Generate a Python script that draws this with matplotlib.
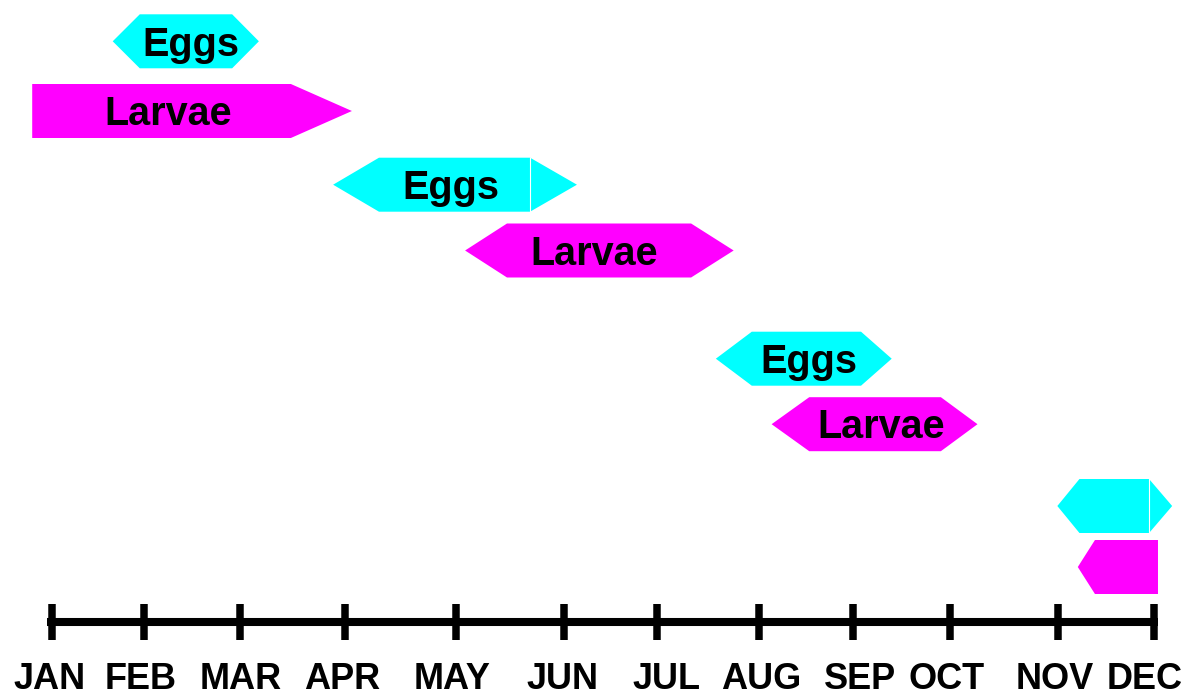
import matplotlib
matplotlib.use("Agg")
import matplotlib.pyplot as plt
from matplotlib.patches import Polygon

plt.rcParams["font.family"] = ["Liberation Sans", "DejaVu Sans"]

# month axis, in day-of-year units
months = ["JAN", "FEB", "MAR", "APR", "MAY", "JUN",
          "JUL", "AUG", "SEP", "OCT", "NOV", "DEC"]
month_pos = [0, 27.9, 57.1, 88.8, 122.4, 155.2,
             183.4, 214.3, 242.8, 272.2, 304.8, 334]
# where each month name sits (they are not exactly centred on the ticks)
month_label_pos = [-0.6, 27.0, 57.3, 87.9, 121.2, 154.6,
                   186.1, 214.9, 244.9, 271.0, 304.0, 331.3]

# stage bars: left tip, body start, body end, right tip (days)
stages = ["Eggs", "Larvae", "Eggs", "Larvae", "Eggs", "Larvae", "Eggs", "Larvae"]
left_tip = [18.4, -6.0, 85.2, 125.2, 201.2, 218.1, 304.7, 310.9]
body_start = [26.6, -6.0, 99.1, 137.9, 212.1, 229.5, 311.4, 316.1]
body_end = [54.6, 72.4, 144.9, 193.7, 245.2, 269.4, 332.5, 335.2]
right_tip = [62.7, 90.9, 159.1, 206.6, 254.5, 280.5, 339.5, 335.2]
show_label = [True, True, True, True, True, True, False, False]
label_pos = [42.1, 35.2, 120.9, 164.3, 229.4, 251.3, None, None]

# layout (vertical positions in pixel rows of the 697 px canvas)
row_y = [41.3, 111, 184.7, 250.5, 358.7, 424.2, 506, 567]
bar_h = 54
split_line = [False, False, True, False, False, False, True, False]
colors = {"Eggs": "#00FFFF", "Larvae": "#FF00FF"}

fig = plt.figure(figsize=(11.88, 6.97), dpi=100)
ax = fig.add_axes([0, 0, 1, 1])
ax.set_xlim(-15.76, 344.3)
ax.set_ylim(697, 0)
ax.axis("off")

for i, st in enumerate(stages):
    c = row_y[i]
    top, bot = c - bar_h / 2, c + bar_h / 2
    pts = [(left_tip[i], c), (body_start[i], top), (body_end[i], top),
           (right_tip[i], c), (body_end[i], bot), (body_start[i], bot)]
    ax.add_patch(Polygon(pts, closed=True, facecolor=colors[st],
                         edgecolor="none", antialiased=True))
    if split_line[i]:
        ax.plot([body_end[i], body_end[i]], [top, bot], color="white", lw=0.8)
    if show_label[i]:
        ax.text(label_pos[i], c + 14.3, st, ha="center", va="baseline",
                fontsize=28.5, fontweight="bold", color="black")

# timeline
ax.plot([-1.6, month_pos[-1] + 1.1], [621.5, 621.5], color="black", lw=5.8,
        solid_capstyle="butt")
ax.vlines(month_pos, 604, 639.5, color="black", lw=5.4)
for m, x in zip(months, month_label_pos):
    ax.text(x, 689, m, ha="center", va="baseline", fontsize=26,
            fontweight="bold", color="black")

fig.savefig("out.png", dpi=100)
